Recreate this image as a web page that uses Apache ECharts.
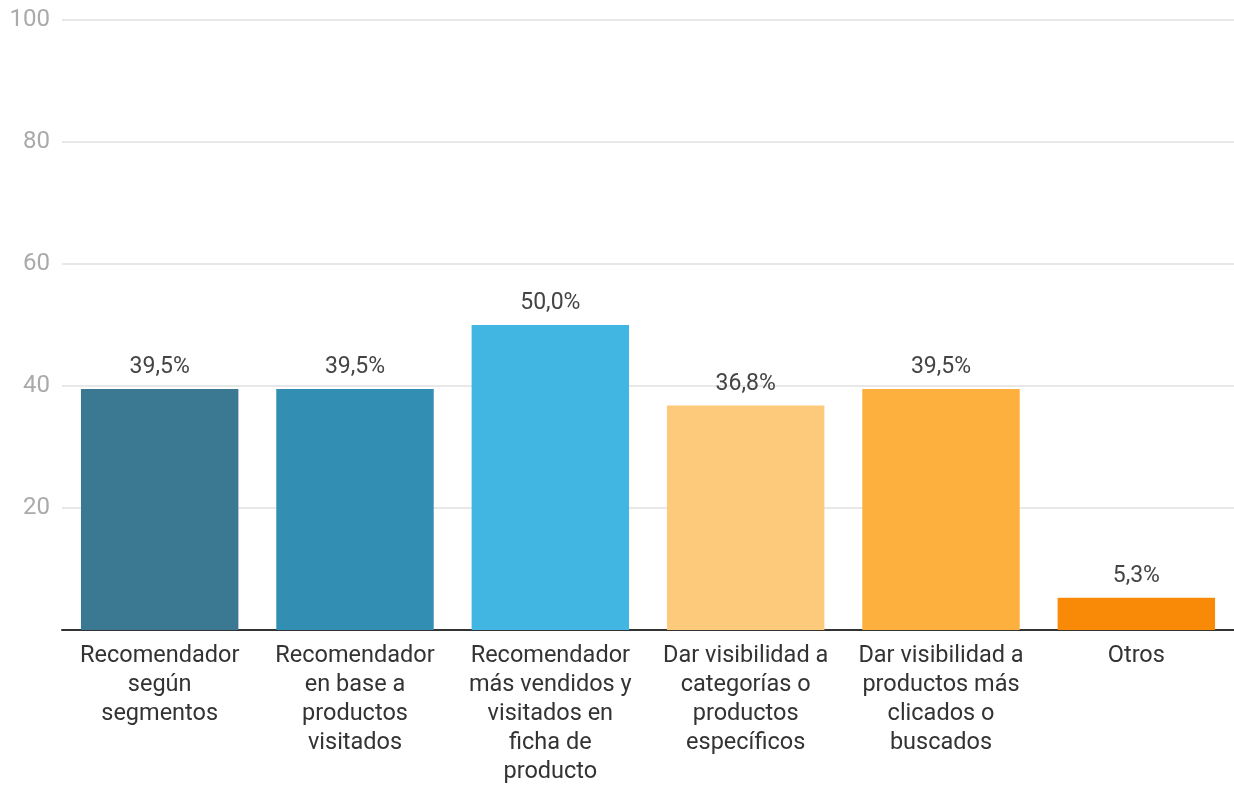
<!DOCTYPE html>
<html>
<head>
<meta charset="utf-8">
<style>
  html, body { margin: 0; padding: 0; background: #fff; overflow: hidden; }
  #chart { width: 1234px; height: 787px; }
</style>
<script src="https://cdn.jsdelivr.net/npm/echarts@6/dist/echarts.min.js"></script>
</head>
<body>
<div id="chart"></div>
<script>
// Categories (line breaks as shown under each bar)
const categories = [
  'Recomendador\nsegún\nsegmentos',
  'Recomendador\nen base a\nproductos\nvisitados',
  'Recomendador\nmás vendidos y\nvisitados en\nficha de\nproducto',
  'Dar visibilidad a\ncategorías o\nproductos\nespecíficos',
  'Dar visibilidad a\nproductos más\nclicados o\nbuscados',
  'Otros'
];
// Percentage of responses per option
const values = [39.5, 39.5, 50.0, 36.8, 39.5, 5.3];
// One colour per bar
const barColors = ['#3b7891', '#338eb3', '#41b6e2', '#fdc97a', '#fdb03e', '#f98a07'];
// Value axis ticks
const yTicks = [0, 20, 40, 60, 80, 100];

const chart = echarts.init(document.getElementById('chart'));
chart.setOption({
  animation: false,
  textStyle: { fontFamily: 'Roboto' },
  grid: { left: 62, right: -2, top: 20, bottom: 151, containLabel: false },
  xAxis: {
    type: 'category',
    data: categories,
    axisLine: { show: true, lineStyle: { color: '#333', width: 2 } },
    axisTick: { show: false },
    axisLabel: {
      interval: 0,
      color: '#333',
      fontSize: 23.5,
      lineHeight: 29,
      margin: 12,
      fontFamily: 'Roboto'
    }
  },
  yAxis: {
    type: 'value',
    min: yTicks[0],
    max: yTicks[yTicks.length - 1],
    interval: 20,
    axisLine: { show: false },
    axisTick: { show: false },
    splitLine: { lineStyle: { color: '#e8e8e8', width: 2 } },
    axisLabel: {
      color: '#aaaaaa',
      fontSize: 24,
      margin: 12,
      fontFamily: 'Roboto',
      formatter: v => (v === 0 ? '' : String(v))
    }
  },
  series: [{
    type: 'bar',
    barCategoryGap: '19.4%',
    data: values.map((v, i) => ({ value: v, itemStyle: { color: barColors[i] } })),
    label: {
      show: true,
      position: 'top',
      distance: 10,
      color: '#444',
      fontSize: 23,
      fontFamily: 'Roboto',
      formatter: p => p.value.toFixed(1).replace('.', ',') + '%'
    }
  }]
});
</script>
</body>
</html>
